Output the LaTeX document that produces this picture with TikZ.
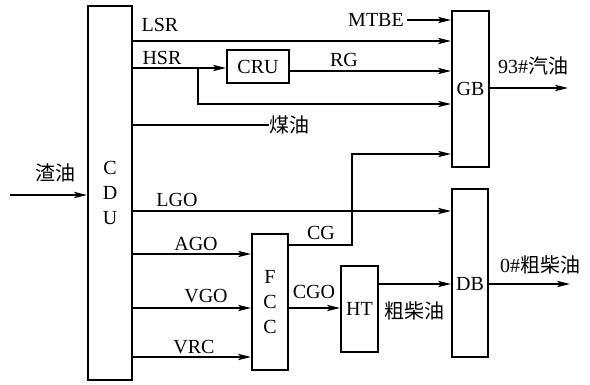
\documentclass[tikz,border=0pt]{standalone}
\usepackage{fontspec}
\usepackage{tikz}
\usepackage{xcolor}
\usetikzlibrary{arrows.meta, positioning}
\setmainfont{Liberation Serif}
\newfontfamily\cjk{Noto Sans CJK SC}

\begin{document}
\begin{tikzpicture}[
      x=0.5pt, y=-0.5pt,
      font=\fontsize{10}{12.5}\selectfont,
      unit/.style={draw, line width=1pt, inner sep=0pt, align=center},
      tag/.style={inner sep=0pt},
      line/.style={-{Stealth[length=6.5pt, width=3.2pt, inset=1.5pt]}, line width=0.6pt},
      plain/.style={line width=0.6pt}
    ]
      \useasboundingbox (0,0) rectangle (590,385);

      \node[unit, minimum width=22pt, minimum height=187pt] (cdu) at (110,193) {C\\D\\U};
      \node[unit, minimum width=31pt, minimum height=16.5pt] (cru) at (258,67) {CRU};
      \node[unit, minimum width=18.5pt, minimum height=78pt] (gb) at (470.5,89) {GB};
      \node[unit, minimum width=18pt, minimum height=84pt] (db) at (470,273) {};
      \node[tag] (dbname) at (470,284) {DB};
      \node[unit, minimum width=18pt, minimum height=68pt] (fcc) at (270,302) {F\\C\\C};
      \node[unit, minimum width=18.5pt, minimum height=43pt] (ht) at (359.5,309) {HT};

      \node[tag] (feedname) at (55,173) {\cjk 渣油};
      \node[tag] (lsr) at (160,25) {LSR};
      \node[tag] (hsr) at (162,58) {HSR};
      \node[tag] (rg) at (344,60) {RG};
      \node[tag] (mtbe) at (376,20) {MTBE};
      \node[tag] (kerosene) at (289,125) {\cjk 煤油};
      \node[tag] (gasname) at (533,66) {93\#{\cjk 汽油}};
      \node[tag] (lgo) at (177,200) {LGO};
      \node[tag] (ago) at (196,244) {AGO};
      \node[tag] (vgo) at (206,296) {VGO};
      \node[tag] (vrc) at (194,347) {VRC};
      \node[tag] (cg) at (321,233) {CG};
      \node[tag] (cgo) at (314,292) {CGO};
      \node[tag] (lco) at (414,311) {\cjk 粗柴油};
      \node[tag] (dieselname) at (540,265) {0\#{\cjk 粗柴油}};

      \coordinate (feed) at (10,195);
      \coordinate (split) at (198,68);
      \coordinate (gasout) at (568,88);
      \coordinate (dieselout) at (570,284);

      \draw[line] (feed) -- (cdu.west |- feed);
      \draw[line] (cdu.east |- 0,41) -- (gb.west |- 0,41);
      \draw[line] (cdu.east |- split) -- (cru.west |- split);
      \draw[line] (split) |- (gb.west |- 0,104);
      \draw[line] (cru.east |- 0,71) -- (gb.west |- 0,71);
      \draw[line] (mtbe.east) ++(3,0) -- (gb.west |- mtbe.east);
      \draw[plain] (cdu.east |- kerosene) -- (kerosene.west);
      \draw[line] (gb.east |- gasout) -- (gasout);
      \draw[line] (fcc.east |- 0,245) -| (352,154) -- (gb.west |- 0,154);
      \draw[line] (cdu.east |- 0,211) -- (db.west |- 0,211);
      \draw[line] (cdu.east |- 0,254) -- (fcc.west |- 0,254);
      \draw[line] (cdu.east |- 0,308) -- (fcc.west |- 0,308);
      \draw[line] (cdu.east |- 0,357) -- (fcc.west |- 0,357);
      \draw[line] (fcc.east |- 0,308) -- (ht.west |- 0,308);
      \draw[line] (ht.east |- dieselout) -- (db.west |- dieselout);
      \draw[line] (db.east |- dieselout) -- (dieselout);
    \end{tikzpicture}
\end{document}
